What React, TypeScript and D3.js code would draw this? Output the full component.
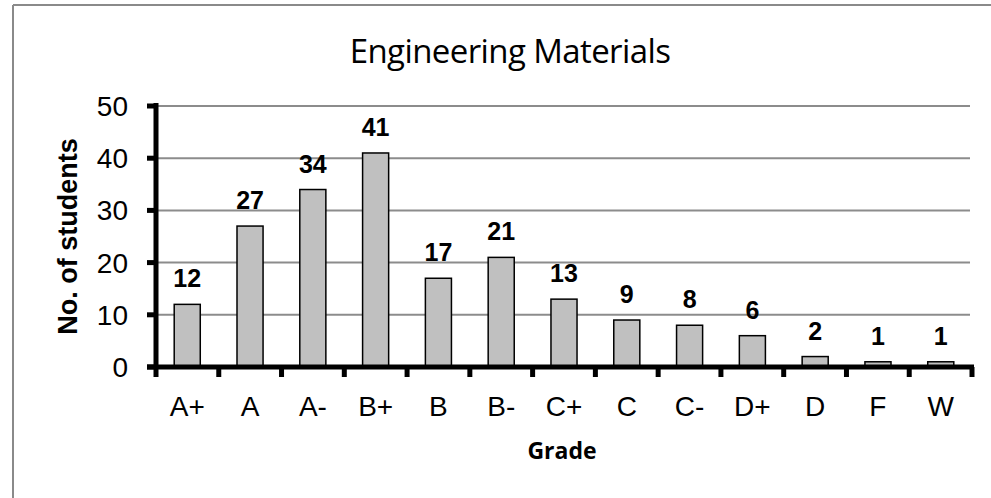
import React from "react";
import * as d3 from "d3";

const grades = ["A+", "A", "A-", "B+", "B", "B-", "C+", "C", "C-", "D+", "D", "F", "W"];
const students = [12, 27, 34, 41, 17, 21, 13, 9, 8, 6, 2, 1, 1];
const yTicks = [0, 10, 20, 30, 40, 50];
const title = "Engineering Materials";
const xTitle = "Grade";
const yTitle = "No. of students";

export default function App() {
  const W = 991;
  const H = 498;
  const left = 156;
  const right = 972;
  const top = 106;
  const bottom = 367;

  const x = d3.scaleBand<string>().domain(grades).range([left, right]).paddingInner(0.585).paddingOuter(0.29);
  const xStep = d3.scaleBand<string>().domain(grades).range([left, right]);
  const y = d3.scaleLinear().domain([0, 50]).range([bottom, top]);

  return (
    <svg width={W} height={H} style={{ position: "absolute", left: 0, top: 0 }}>
      <rect x={0} y={0} width={W} height={H} fill="#fff" />
      {/* outer border */}
      <line x1={13} y1={5} x2={W} y2={5} stroke="#8a8a8a" strokeWidth={2} />
      <line x1={13} y1={5} x2={13} y2={H} stroke="#8a8a8a" strokeWidth={2} />

      <text
        x={510}
        y={63}
        textAnchor="middle"
        fontFamily="'Open Sans', sans-serif"
        fontSize={33}
        letterSpacing={-0.6}
        fill="#000"
      >
        {title}
      </text>

      {/* gridlines */}
      {yTicks.filter((t) => t > 0).map((t) => (
        <line key={t} x1={left} x2={right - 2} y1={y(t)} y2={y(t)} stroke="#8c8c8c" strokeWidth={2} />
      ))}

      {/* bars */}
      {grades.map((g, i) => (
        <rect
          key={g}
          x={x(g)}
          y={y(students[i])}
          width={x.bandwidth()}
          height={bottom - y(students[i])}
          fill="#c0c0c0"
          stroke="#000"
          strokeWidth={1.5}
        />
      ))}

      {/* bar labels */}
      {grades.map((g, i) => (
        <text
          key={g}
          x={(x(g) as number) + x.bandwidth() / 2}
          y={y(students[i]) - 17}
          textAnchor="middle"
          fontFamily="'Liberation Sans', Arial, sans-serif"
          fontWeight="bold"
          fontSize={25}
          fill="#000"
        >
          {students[i]}
        </text>
      ))}

      {/* y axis */}
      <line x1={left} x2={left} y1={top - 3} y2={bottom} stroke="#000" strokeWidth={5} />
      {yTicks.map((t) => (
        <g key={t}>
          <line x1={left - 9} x2={left} y1={y(t)} y2={y(t)} stroke="#000" strokeWidth={5} />
          <text
            x={128}
            y={y(t)}
            dy="0.36em"
            textAnchor="end"
            fontFamily="'Liberation Sans', Arial, sans-serif"
            fontSize={28}
            fill="#000"
          >
            {t}
          </text>
        </g>
      ))}

      {/* x axis */}
      <line x1={left - 9} x2={right + 2} y1={bottom} y2={bottom} stroke="#000" strokeWidth={5} />
      {grades.concat(["__end"]).map((g, i) => {
        const xx = i < grades.length ? (xStep(g) as number) : right;
        return <line key={g} x1={xx} x2={xx} y1={bottom} y2={bottom + 10} stroke="#000" strokeWidth={5} />;
      })}
      {grades.map((g) => (
        <text
          key={g}
          x={(xStep(g) as number) + xStep.bandwidth() / 2}
          y={416}
          textAnchor="middle"
          fontFamily="'Liberation Sans', Arial, sans-serif"
          fontSize={28}
          fill="#000"
        >
          {g}
        </text>
      ))}

      <text x={562} y={459} textAnchor="middle" fontFamily="'Open Sans', sans-serif" fontWeight="bold" fontSize={23} fill="#000">
        {xTitle}
      </text>

      <text
        transform={`translate(77, ${(top + bottom) / 2}) rotate(-90)`}
        textAnchor="middle"
        fontFamily="'Liberation Sans', Arial, sans-serif"
        fontWeight="bold"
        fontSize={27}
        fill="#000"
      >
        {yTitle}
      </text>
    </svg>
  );
}
